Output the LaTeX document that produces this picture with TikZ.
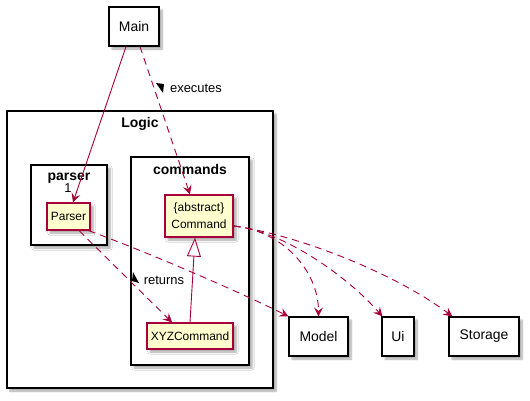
\documentclass[tikz,border=0pt]{standalone}
\usepackage{fontspec}
\setmainfont{Liberation Sans}
\usetikzlibrary{arrows.meta,shadows.blur}
\definecolor{puborder}{HTML}{A80036}
\definecolor{pufill}{HTML}{FEFECE}
\tikzset{
 shad/.style={blur shadow={shadow xshift=3bp,shadow yshift=-3bp,shadow blur steps=6,shadow opacity=35}},
 comp/.style={draw=black,line width=1.2bp,fill=white,inner sep=0pt,shad,font=\fontsize{14}{16}\selectfont},
 cls/.style={draw=puborder,line width=1.2bp,fill=pufill,inner sep=0pt,shad,font=\fontsize{12}{17}\selectfont,align=center},
 pkg/.style={draw=black,line width=1.4bp,fill=white,inner sep=0pt,shad},
 pkglabel/.style={font=\bfseries\fontsize{14}{16}\selectfont,inner sep=0pt},
 dep/.style={draw=puborder,line width=0.9bp,dash pattern=on 7bp off 5bp,-{Stealth[length=9bp,width=9bp,inset=3.5bp]}},
 assoc/.style={draw=puborder,line width=0.9bp,-{Stealth[length=9bp,width=9bp,inset=3.5bp]}},
 ext/.style={draw=puborder,line width=0.9bp,-{Triangle[open,length=19bp,width=14bp,fill=white]}},
 lbl/.style={font=\fontsize{13}{15}\selectfont,inner sep=0pt},
 mult/.style={font=\fontsize{13}{15}\selectfont,inner sep=0pt},
}
\begin{document}
\begin{tikzpicture}[x=1bp,y=-1bp]
\useasboundingbox (0,0) rectangle (530,400);
% packages
\node[pkg,minimum width=266bp,minimum height=277bp] (logic) at (140,249.5) {};
\node[pkglabel] (logiclbl) at (140,124) {Logic};
\node[pkg,minimum width=76bp,minimum height=80bp] (parserpkg) at (69,205) {};
\node[pkglabel] (parserlbl) at (69,178) {parser};
\node[pkg,minimum width=118bp,minimum height=208bp] (commandspkg) at (190,261) {};
\node[pkglabel] (commandslbl) at (190,170) {commands};
% components
\node[comp,minimum width=50bp,minimum height=39bp] (main) at (134,26.5) {Main};
\node[comp,minimum width=59bp,minimum height=39bp] (model) at (318.5,336.5) {Model};
\node[comp,minimum width=32bp,minimum height=39bp] (ui) at (398,336.5) {Ui};
\node[comp,minimum width=70bp,minimum height=39bp] (storage) at (484,336.5) {Storage};
% classes
\node[cls,minimum width=43bp,minimum height=27bp] (parser) at (68.5,216.5) {Parser};
\node[cls,minimum width=68bp,minimum height=42bp] (cmd) at (199,216) {\{abstract\}\\Command};
\node[cls,minimum width=86bp,minimum height=26bp] (xyz) at (190,336) {XYZCommand};
% connectors
\draw[assoc] ([xshift=-8bp]main.south) -- ([xshift=4.5bp]parser.north);
\node[mult] (one) at (68,188) {1};
\draw[dep] ([xshift=6bp]main.south) -- ([xshift=-9bp]cmd.north);
\node[lbl] (exlbl) at (196,88) {executes};
\fill (156,83) -- (164,84) -- (163,93) -- cycle;
\draw[ext] (xyz.north) -- ([xshift=-4bp]cmd.south);
\draw[dep] ([xshift=10.5bp]parser.south) -- ([xshift=-18bp]xyz.north);
\node[lbl] (retlbl) at (164,280) {returns};
\fill (133,272) -- (139,283) -- (132,281) -- cycle;
\draw[dep] ([xshift=-2bp]parser.south east) .. controls +(60,22) and +(-50,-25) .. (model.north west);
\draw[dep] ([yshift=-10bp]cmd.east) .. controls +(50,5) and +(0,-45) .. (model.north);
\draw[dep] ([yshift=-10bp]cmd.east) .. controls +(50,5) and +(-35,-40) .. ([xshift=1bp]ui.north west);
\draw[dep] ([yshift=-10bp]cmd.east) .. controls +(60,8) and +(-60,-45) .. ([xshift=4bp]storage.north west);
\end{tikzpicture}
\end{document}
